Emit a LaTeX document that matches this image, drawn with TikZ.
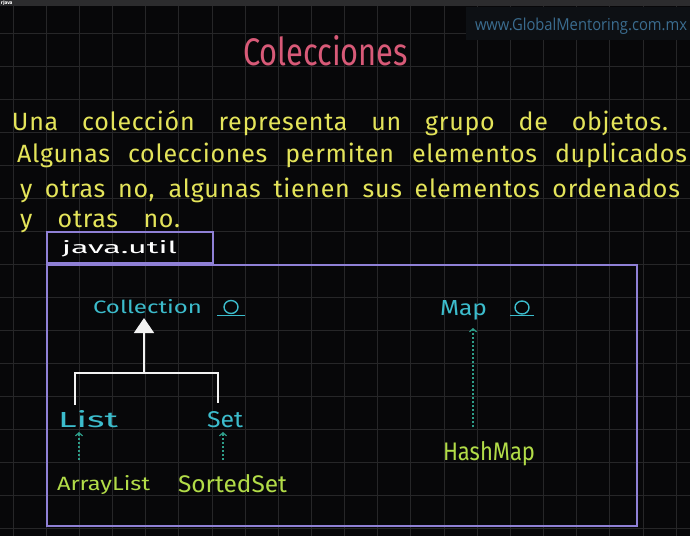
\documentclass[tikz,border=0pt]{standalone}
\usepackage{fontspec}
\usepackage{graphicx}
\setmainfont{Fira Sans}
\newfontfamily\wmfont{Open Sans}
\usetikzlibrary{arrows.meta,calc}
\definecolor{bgc}{HTML}{070709}
\definecolor{gridc}{HTML}{262628}
\definecolor{barc}{HTML}{2c2c2e}
\definecolor{wmbg}{HTML}{0d1014}
\definecolor{wmc}{HTML}{3b6d90}
\definecolor{pinkc}{HTML}{D85A78}
\definecolor{yellowc}{HTML}{E4E45A}
\definecolor{cyanc}{HTML}{3CBCCC}
\definecolor{limec}{HTML}{B2DC48}
\definecolor{dashc}{HTML}{2E9E8A}
\definecolor{framec}{HTML}{8F80D6}
\definecolor{connc}{HTML}{F2F2F2}
\newcommand{\fitbox}[3]{\resizebox{#1pt}{#2pt}{#3}}
\newcommand{\yfont}{\fontsize{25}{25}\selectfont\addfontfeature{LetterSpace=3}}
\begin{document}
\begin{tikzpicture}[x=1pt,y=-1pt,
  lbl/.style={inner sep=0pt, outer sep=0pt, anchor=base west},
  conn/.style={draw=connc, line width=1.6pt},
  impl/.style={draw=dashc, line width=1.2pt, dash pattern=on 2.5pt off 1.5pt, -{Straight Barb[length=3pt,width=7pt]}},
  frame/.style={draw=framec, line width=2pt},
  iface/.style={draw=cyanc, line width=1.4pt},
  gridline/.style={draw=gridc, line width=0.7pt}]
\useasboundingbox (0,0) rectangle (690,536);
\clip (0,0) rectangle (690,536);
\fill[bgc] (0,0) rectangle (690,536);
% grid
\foreach \i in {0,...,20} \draw[gridline] ({13+33.15*\i},5) -- ({13+33.15*\i},536);
\foreach \j in {0,...,15} \draw[gridline] (0,{33+33*\j}) -- (690,{33+33*\j});
% top bar
\fill[barc] (0,0) rectangle (690,5.5);
\node[lbl, text=white, font=\fontsize{5}{5}\selectfont\bfseries] (tab) at (1,4.6) {rJava};
% watermark
\fill[wmbg] (466,7) rectangle (690,40);
\node[lbl, text=wmc, font=\wmfont] (wm) at (475,30) {\fitbox{212}{12.5}{www.GlobalMentoring.com.mx}};
% title
\node[lbl, text=pinkc] (title) at (243,65) {\fitbox{165}{30}{Colecciones}};
% yellow text
\node[lbl, text=yellowc, font=\yfont] (l1) at (12,130) {\makebox[656pt][s]{Una colección representa un grupo de objetos.}};
\node[lbl, text=yellowc, font=\yfont] (l2) at (17,162) {\makebox[670pt][s]{Algunas colecciones permiten elementos duplicados}};
\node[lbl, text=yellowc, font=\yfont] (l3) at (20,197) {\makebox[660pt][s]{y otras no, algunas tienen sus elementos ordenados}};
\node[lbl, text=yellowc, font=\yfont] (l4) at (20,227) {\makebox[160pt][s]{y otras no.}};
% package boxes
\draw[frame] (47,232) rectangle (213,263);
\node[lbl, text=white] (pkg) at (62,253) {\fitbox{115}{13}{java.util}};
\draw[frame] (47,265) rectangle (637,526);
% labels
\node[lbl, text=cyanc] (Collection) at (93,313) {\fitbox{109}{14}{Collection}};
\node[lbl, text=cyanc] (List) at (58,427) {\fitbox{60}{17}{List}};
\node[lbl, text=cyanc] (Set) at (207,427) {\fitbox{36}{16}{Set}};
\node[lbl, text=cyanc] (Map) at (440,315) {\fitbox{47}{15}{Map}};
\node[lbl, text=limec] (ArrayList) at (57,490) {\fitbox{93}{15}{ArrayList}};
\node[lbl, text=limec] (SortedSet) at (178,492) {\fitbox{109}{18}{SortedSet}};
\node[lbl, text=limec] (HashMap) at (443,460) {\fitbox{92}{19}{HashMap}};
% interface symbols
\draw[iface] ($(Collection.base east)+(29,-6)$) ellipse (7 and 6.5);
\draw[iface] ($(Collection.base east)+(15,2.5)$) -- ++(28,0);
\draw[iface] ($(Map.base east)+(35,-7.5)$) ellipse (7 and 6.5);
\draw[iface] ($(Map.base east)+(23,0.5)$) -- ++(24,0);
% hierarchy
\coordinate (bar) at (144,373);
\draw[conn, -{Triangle[width=20pt,length=15pt,fill=connc]}] (bar) -- ($(Collection.base -| bar)+(0,5)$);
\draw[conn] ($(List.north west)+(17,-5)$) |- (bar) -| ($(Set.north west)+(11,-8)$);
\draw[impl] ($(ArrayList.north west)+(22,-15)$) -- ($(List.base west)+(21,5)$);
\draw[impl] ($(SortedSet.north west)+(45,-14)$) -- ($(Set.base west)+(16,5)$);
\draw[impl] ($(HashMap.north west)+(30,-14)$) -- ($(Map.base west)+(33,13)$);
\end{tikzpicture}
\end{document}
